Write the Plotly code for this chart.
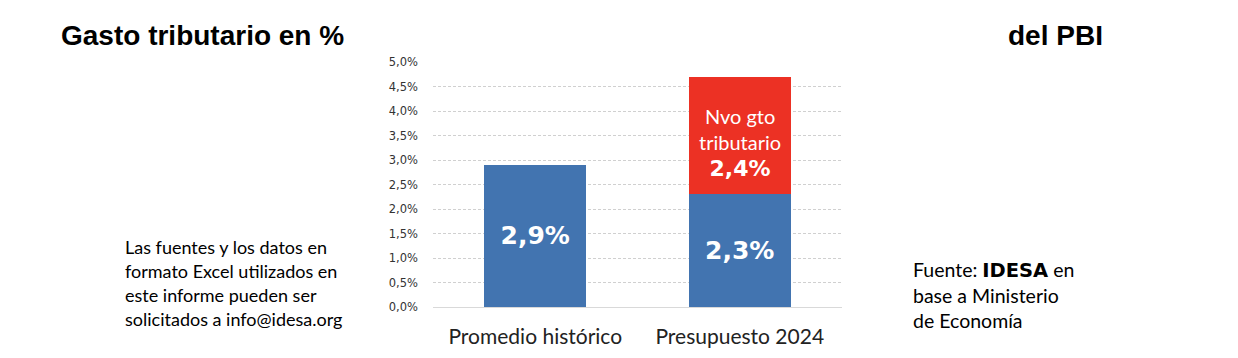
import plotly.graph_objects as go

categories = ["Promedio histórico", "Presupuesto 2024"]
gasto_base = [2.9, 2.3]
gasto_nuevo = [None, 2.4]
y_ticks = [0.0, 0.5, 1.0, 1.5, 2.0, 2.5, 3.0, 3.5, 4.0, 4.5, 5.0]
title_left = "Gasto tributario en %"
title_right = "del PBI"
note_left = ["Las fuentes y los datos en", "formato Excel utilizados en",
             "este informe pueden ser", "solicitados a info@idesa.org"]
note_right = ["Fuente: <span style='font-family:DejaVu Sans;font-weight:bold'>IDESA</span> en",
              "base a Ministerio", "de Economía"]
nuevo_label = "Nvo gto<br>tributario"

BLUE = "#4274B0"
RED = "#EC3124"


def fmt(v):
    return f"{v:.1f}".replace(".", ",") + "%"


fig = go.Figure()
fig.add_trace(go.Bar(
    x=categories, y=gasto_base, marker=dict(color=BLUE, line=dict(width=0)),
    text=["<b>" + fmt(v) + "</b>" for v in gasto_base],
    textposition="inside", insidetextanchor="middle", textangle=0,
    constraintext="none",
    textfont=dict(family="DejaVu Sans", size=25, color="white"),
    hoverinfo="skip", showlegend=False,
))
fig.add_trace(go.Bar(
    x=categories, y=gasto_nuevo, marker=dict(color=RED, line=dict(width=0)),
    hoverinfo="skip", showlegend=False,
))

# page body has an 8px margin; reference coordinates are shifted accordingly
OFF = 8
W, H = 1238, 358
L, R, T, B = 433 - OFF, 842 - OFF, 62 - OFF, 307 - OFF


def px(x):
    return (x - OFF - L) / (R - L)


def py(y):
    return (B - (y - OFF)) / (B - T)


annotations = [
    dict(text="<b>" + title_left + "</b>", x=px(59), y=py(35), xanchor="left", yanchor="middle",
         font=dict(family="Liberation Sans", size=28, color="black")),
    dict(text="<b>" + title_right + "</b>", x=px(1006), y=py(35), xanchor="left", yanchor="middle",
         font=dict(family="Liberation Sans", size=28, color="black")),
]
for i, line in enumerate(note_left):
    annotations.append(dict(text=line, x=px(123), y=py(247 + i * 24), xanchor="left", yanchor="middle",
                            font=dict(family="Lato", size=18, color="black")))
for i, line in enumerate(note_right):
    annotations.append(dict(text=line, x=px(911), y=py(270 + i * 25), xanchor="left", yanchor="middle",
                            font=dict(family="Lato", size=19.5, color="black")))
for a in annotations:
    a.update(xref="paper", yref="paper", showarrow=False, align="left")

# labels for the new tax-expenditure segment, placed in data coordinates
for cat, base, extra in zip(categories, gasto_base, gasto_nuevo):
    if extra is None:
        continue
    annotations.append(dict(
        x=cat, y=base + extra / 2, xref="x", yref="y", showarrow=False, yshift=-7,
        text=nuevo_label + "<br><span style='font-family:DejaVu Sans;font-size:22px;font-weight:bold'>" + fmt(extra) + "</span>",
        align="center", xanchor="center", yanchor="middle",
        font=dict(family="Lato", size=20, color="white"),
    ))

fig.update_layout(
    width=W, height=H,
    margin=dict(l=L, r=W - R, t=T, b=H - B, pad=0),
    barmode="stack", bargap=0.5,
    paper_bgcolor="white", plot_bgcolor="white",
    showlegend=False,
    annotations=annotations,
    xaxis=dict(showline=False, showgrid=False, ticks="", ticklabelstandoff=15,
               tickfont=dict(family="Lato", size=21, color="#222")),
    yaxis=dict(range=[0, 5.0], tickvals=y_ticks, ticktext=[fmt(v) for v in y_ticks],
               showgrid=True, gridcolor="#d0d0d0", griddash="3px,2px", gridwidth=1,
               zeroline=True, zerolinecolor="#d9d9d9", zerolinewidth=1,
               showline=False, ticks="", ticklabelstandoff=14,
               tickfont=dict(family="DejaVu Sans", size=11.5, color="#333")),
)

fig.write_html("out.html")
